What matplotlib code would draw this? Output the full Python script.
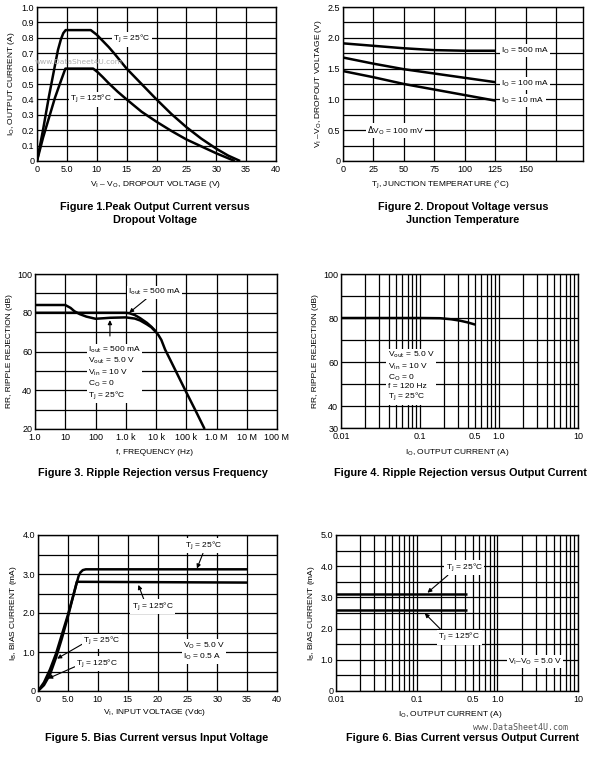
import matplotlib
matplotlib.use("Agg")
import matplotlib.pyplot as plt
import numpy as np

plt.rcParams["font.family"] = ["Liberation Sans Narrow", "Liberation Sans", "DejaVu Sans"]
plt.rcParams["mathtext.fontset"] = "custom"
plt.rcParams["mathtext.rm"] = "Liberation Sans Narrow"
plt.rcParams["mathtext.it"] = "Liberation Sans Narrow"
plt.rcParams["font.size"] = 6.0

W, H = 603, 764

# Figure 1: peak output current vs dropout voltage
fig1_v25 = [0, 1, 2, 3, 3.5, 4.0, 4.4, 4.8, 9.0, 10, 11, 12, 13, 15, 17.5, 20,
            22.5, 25, 27.5, 30, 32, 34]
fig1_i25 = [0, 0.2, 0.42, 0.62, 0.72, 0.79, 0.83, 0.85, 0.85, 0.82, 0.78, 0.74, 0.695,
            0.6, 0.5, 0.4, 0.305, 0.22, 0.145, 0.08, 0.035, 0]
fig1_v125 = [0, 1, 2, 3, 4, 4.75, 9.4, 10.2, 11, 12, 13.5, 15, 17.5, 20, 22.5, 25, 27.5,
             30, 33.1]
fig1_i125 = [0, 0.15, 0.28, 0.41, 0.52, 0.6, 0.6, 0.575, 0.545, 0.505, 0.45, 0.4, 0.32,
             0.255, 0.195, 0.14, 0.095, 0.05, 0]

# Figure 2: dropout voltage vs junction temperature
fig2_temp = [0, 25, 50, 75, 100, 125]
fig2_v500 = [1.91, 1.87, 1.83, 1.80, 1.79, 1.79]
fig2_v100 = [1.68, 1.58, 1.49, 1.42, 1.35, 1.28]
fig2_v10 = [1.46, 1.36, 1.25, 1.16, 1.07, 0.98]

# Figure 3: ripple rejection vs frequency
fig3_fa = [1, 10, 100, 1000, 1300, 2000, 3000, 5000, 7000, 10000]
fig3_rra = [80, 80, 80, 80, 79.8, 78.8, 77.2, 74.8, 72.8, 70.3]
fig3_fb = [1, 10, 15, 20, 30, 50, 100, 200, 300, 1000, 2000, 3000, 5000, 7000,
           10000, 12000, 15000, 20000, 30000, 50000, 100000, 200000, 405000]
fig3_rrb = [84, 84, 82.5, 80.8, 79.3, 78, 76.9, 77.2, 77.4, 77.6, 77, 76, 74, 72.5,
            70, 68.5, 66, 61, 55.5, 48.5, 39, 29.7, 20]

# Figure 4: ripple rejection vs output current
fig4_io = [0.01, 0.05, 0.1, 0.18, 0.25, 0.32, 0.4, 0.5]
fig4_rr = [80, 80, 80, 79.9, 79.4, 78.8, 78.0, 77.0]

# Figure 5: bias current vs input voltage
fig5_v25 = [0, 1, 2, 3, 4, 5, 6, 6.8, 7.1, 7.5, 8, 35]
fig5_i25 = [0, 0.22, 0.55, 0.95, 1.45, 1.95, 2.5, 2.95, 3.04, 3.1, 3.12, 3.12]
fig5_v125 = [0, 1, 2, 3, 4, 5, 6, 6.5, 35]
fig5_i125 = [0, 0.15, 0.42, 0.85, 1.35, 1.9, 2.5, 2.8, 2.78]

# Figure 6: bias current vs output current
fig6_io = [0.01, 0.42]
fig6_i25 = [3.12, 3.12]
fig6_i125 = [2.6, 2.6]

CURVE = dict(color="black", lw=1.8, solid_capstyle="butt", solid_joinstyle="round")
BOX = dict(fc="white", ec="none", pad=1.0)
ARROW = dict(arrowstyle="-|>", lw=0.8, color="black", mutation_scale=6, shrinkA=0, shrinkB=0)


def px_axes(fig, left, top, right, bottom):
    return fig.add_axes([left / W, 1 - bottom / H, (right - left) / W, (bottom - top) / H])


def style(ax):
    ax.tick_params(length=0, pad=2, labelsize=6.5)
    ax.tick_params(axis="x", pad=3)
    for s in ax.spines.values():
        s.set_linewidth(1.0)
    ax.grid(True, which="both", color="black", lw=0.9)
    ax.set_axisbelow(True)


def lin_ticks(ax, axis, grid, labels):
    if axis == "x":
        ax.set_xticks(grid)
        ax.set_xticklabels(labels)
    else:
        ax.set_yticks(grid)
        ax.set_yticklabels(labels)


def log_ticks(ax, lo_exp, hi_exp, labels):
    pos = []
    for e in range(lo_exp, hi_exp):
        for m in range(1, 10):
            pos.append(m * 10.0 ** e)
    pos.append(10.0 ** hi_exp)
    ax.set_xticks(pos)
    ax.set_xticklabels([labels.get(round(p, 6), "") for p in pos])
    ax.minorticks_off()


def figtext(x, y, s, **kw):
    fig.text(x / W, 1 - y / H, s, ha="center", va="center", **kw)


fig = plt.figure(figsize=(W / 100, H / 100), dpi=100)
TITLE = dict(family=["Liberation Sans", "DejaVu Sans"], weight="bold", fontsize=7.8)

# ---- Figure 1
ax = px_axes(fig, 37, 7, 276, 161)
style(ax)
ax.plot(fig1_v25, fig1_i25, **CURVE)
ax.plot(fig1_v125, fig1_i125, **CURVE)
ax.set_xlim(0, 40)
ax.set_ylim(0, 1.0)
lin_ticks(ax, "x", np.arange(0, 41, 5), ["0", "5.0", "10", "15", "20", "25", "30", "35", "40"])
lin_ticks(ax, "y", np.round(np.arange(0, 1.01, 0.1), 1),
          ["0"] + [f"{v:.1f}" for v in np.arange(0.1, 1.01, 0.1)])
ax.text(12.8, 0.79, r"T$_\mathrm{J}$ = 25°C", va="center", bbox=BOX)
ax.text(5.6, 0.4, r"T$_\mathrm{J}$ = 125°C", va="center", bbox=BOX)
ax.set_ylabel(r"I$_\mathrm{O}$, OUTPUT CURRENT (A)", labelpad=3)
figtext(155, 185, r"V$_\mathrm{I}$ – V$_\mathrm{O}$, DROPOUT VOLTAGE (V)")
figtext(155, 207, "Figure 1.Peak Output Current versus", **TITLE)
figtext(155, 220, "Dropout Voltage", **TITLE)
fig.text(35 / W, 1 - 62 / H, "www.DataSheet4U.com", color="#b0b0b0", fontsize=5.4,
         va="center", family=["DejaVu Sans"])

# ---- Figure 2
ax = px_axes(fig, 343, 7, 583, 161)
style(ax)
ax.plot(fig2_temp, fig2_v500, **CURVE)
ax.plot(fig2_temp, fig2_v100, **CURVE)
ax.plot(fig2_temp, fig2_v10, **CURVE)
ax.set_xlim(0, 197)
ax.set_ylim(0, 2.5)
lin_ticks(ax, "x", np.arange(0, 176, 25), ["0", "25", "50", "75", "100", "125", "150", ""])
lin_ticks(ax, "y", np.arange(0, 2.51, 0.25),
          ["0", "", "0.5", "", "1.0", "", "1.5", "", "2.0", "", "2.5"])
ax.text(130, 1.79, r"I$_\mathrm{O}$ = 500 mA", va="center", bbox=BOX)
ax.text(130, 1.26, r"I$_\mathrm{O}$ = 100 mA", va="center", bbox=BOX)
ax.text(130, 0.98, r"I$_\mathrm{O}$ = 10 mA", va="center", bbox=BOX)
ax.text(20, 0.49, r"$\Delta$V$_\mathrm{O}$ = 100 mV", va="center", bbox=BOX)
ax.set_ylabel(r"V$_\mathrm{I}$ –V$_\mathrm{O}$, DROPOUT VOLTAGE (V)", labelpad=3)
figtext(440, 185, r"T$_\mathrm{J}$, JUNCTION TEMPERATURE (°C)")
figtext(463, 207, "Figure 2. Dropout Voltage versus", **TITLE)
figtext(463, 220, "Junction Temperature", **TITLE)

# ---- Figure 3
ax = px_axes(fig, 35, 274, 277, 429)
style(ax)
ax.set_xscale("log")
ax.plot(fig3_fa, fig3_rra, **CURVE)
ax.plot(fig3_fb, fig3_rrb, **CURVE)
ax.set_xlim(1, 1e8)
ax.set_ylim(20, 100)
ax.set_xticks([10.0 ** e for e in range(9)])
ax.set_xticklabels(["1.0", "10", "100", "1.0 k", "10 k", "100 k", "1.0 M", "10 M", "100 M"])
ax.minorticks_off()
lin_ticks(ax, "y", np.arange(20, 101, 10), ["20", "", "40", "", "60", "", "80", "", "100"])
ax.annotate(r"I$_\mathrm{out}$ = 500 mA", xy=(1300, 80), xytext=(1200, 90.6),
            va="center", bbox=BOX, arrowprops=ARROW)
ax.annotate("", xy=(300, 76.2), xytext=(300, 68), arrowprops=ARROW)
ax.text(58, 63.5, "I$_\\mathrm{out}$ = 500 mA\nV$_\\mathrm{out}$ = 5.0 V\nV$_\\mathrm{in}$ = 10 V\n"
        "C$_\\mathrm{O}$ = 0\nT$_\\mathrm{J}$ = 25°C", va="top", linespacing=1.1, bbox=BOX)
ax.set_ylabel("RR, RIPPLE REJECTION (dB)", labelpad=3)
figtext(155, 452, "f, FREQUENCY (Hz)")
figtext(153, 473, "Figure 3. Ripple Rejection versus Frequency", **TITLE)

# ---- Figure 4
ax = px_axes(fig, 341, 274, 578, 428)
style(ax)
ax.set_xscale("log")
ax.plot(fig4_io, fig4_rr, **CURVE)
ax.set_xlim(0.01, 10)
ax.set_ylim(30, 100)
log_ticks(ax, -2, 1, {0.01: "0.01", 0.1: "0.1", 0.5: "0.5", 1.0: "1.0", 10.0: "10"})
lin_ticks(ax, "y", np.arange(30, 101, 10), ["30", "40", "", "60", "", "80", "", "100"])
ax.text(0.039, 65.5, "V$_\\mathrm{out}$ = 5.0 V\nV$_\\mathrm{in}$ = 10 V\nC$_\\mathrm{O}$ = 0\n"
        "f = 120 Hz\nT$_\\mathrm{J}$ = 25°C", va="top", linespacing=1.1, bbox=BOX)
ax.set_ylabel("RR, RIPPLE REJECTION (dB)", labelpad=3)
figtext(457, 452, r"I$_\mathrm{O}$, OUTPUT CURRENT (A)")
figtext(460, 473, "Figure 4. Ripple Rejection versus Output Current", **TITLE)

# ---- Figure 5
ax = px_axes(fig, 38, 535, 277, 691)
style(ax)
ax.plot(fig5_v25, fig5_i25, **CURVE)
ax.plot(fig5_v125, fig5_i125, **CURVE)
ax.set_xlim(0, 40)
ax.set_ylim(0, 4.0)
lin_ticks(ax, "x", np.arange(0, 41, 5), ["0", "5.0", "10", "15", "20", "25", "30", "35", "40"])
lin_ticks(ax, "y", np.arange(0, 4.01, 0.5),
          ["0", "", "1.0", "", "2.0", "", "3.0", "", "4.0"])
ax.annotate(r"T$_\mathrm{J}$ = 25°C", xy=(26.6, 3.14), xytext=(24.6, 3.72),
            va="center", bbox=BOX, arrowprops=dict(ARROW, relpos=(0.5, 0)))
ax.annotate(r"T$_\mathrm{J}$ = 125°C", xy=(16.8, 2.72), xytext=(15.7, 2.16),
            va="center", bbox=BOX, arrowprops=dict(ARROW, relpos=(0.3, 1)))
ax.annotate(r"T$_\mathrm{J}$ = 25°C", xy=(3.2, 0.83), xytext=(7.6, 1.28),
            va="center", bbox=BOX, arrowprops=dict(ARROW, relpos=(0, 0.3)))
ax.annotate(r"T$_\mathrm{J}$ = 125°C", xy=(1.7, 0.32), xytext=(6.4, 0.7),
            va="center", bbox=BOX, arrowprops=dict(ARROW, relpos=(0, 0.3)))
ax.text(24.3, 1.01, "V$_\\mathrm{O}$ = 5.0 V\nI$_\\mathrm{O}$ = 0.5 A", va="center",
        linespacing=1.1, bbox=BOX)
ax.set_ylabel(r"I$_\mathrm{B}$, BIAS CURRENT (mA)", labelpad=3)
figtext(155, 713, r"V$_\mathrm{I}$, INPUT VOLTAGE (Vdc)")
figtext(157, 738, "Figure 5. Bias Current versus Input Voltage", **TITLE)

# ---- Figure 6
ax = px_axes(fig, 336, 535, 578, 691)
style(ax)
ax.set_xscale("log")
ax.plot(fig6_io, fig6_i25, **CURVE)
ax.plot(fig6_io, fig6_i125, **CURVE)
ax.set_xlim(0.01, 10)
ax.set_ylim(0, 5.0)
log_ticks(ax, -2, 1, {0.01: "0.01", 0.1: "0.1", 0.5: "0.5", 1.0: "1.0", 10.0: "10"})
lin_ticks(ax, "y", np.arange(0, 5.01, 0.5),
          ["0", "", "1.0", "", "2.0", "", "3.0", "", "4.0", "", "5.0"])
ax.annotate(r"T$_\mathrm{J}$ = 25°C", xy=(0.136, 3.15), xytext=(0.23, 3.95),
            va="center", bbox=BOX, arrowprops=dict(ARROW, relpos=(0.1, 0)))
ax.annotate(r"T$_\mathrm{J}$ = 125°C", xy=(0.126, 2.49), xytext=(0.186, 1.72),
            va="center", bbox=BOX, arrowprops=dict(ARROW, relpos=(0.1, 1)))
ax.text(1.36, 0.94, r"V$_\mathrm{I}$–V$_\mathrm{O}$ = 5.0 V", va="center", bbox=BOX)
ax.set_ylabel(r"I$_\mathrm{B}$, BIAS CURRENT (mA)", labelpad=3)
figtext(450, 715, r"I$_\mathrm{O}$, OUTPUT CURRENT (A)")
figtext(463, 738, "Figure 6. Bias Current versus Output Current", **TITLE)
fig.text(473 / W, 1 - 728 / H, "www.DataSheet4U.com", color="#555555", fontsize=6,
         va="center", family=["DejaVu Sans Mono"])

fig.savefig("out.png", dpi=100)
